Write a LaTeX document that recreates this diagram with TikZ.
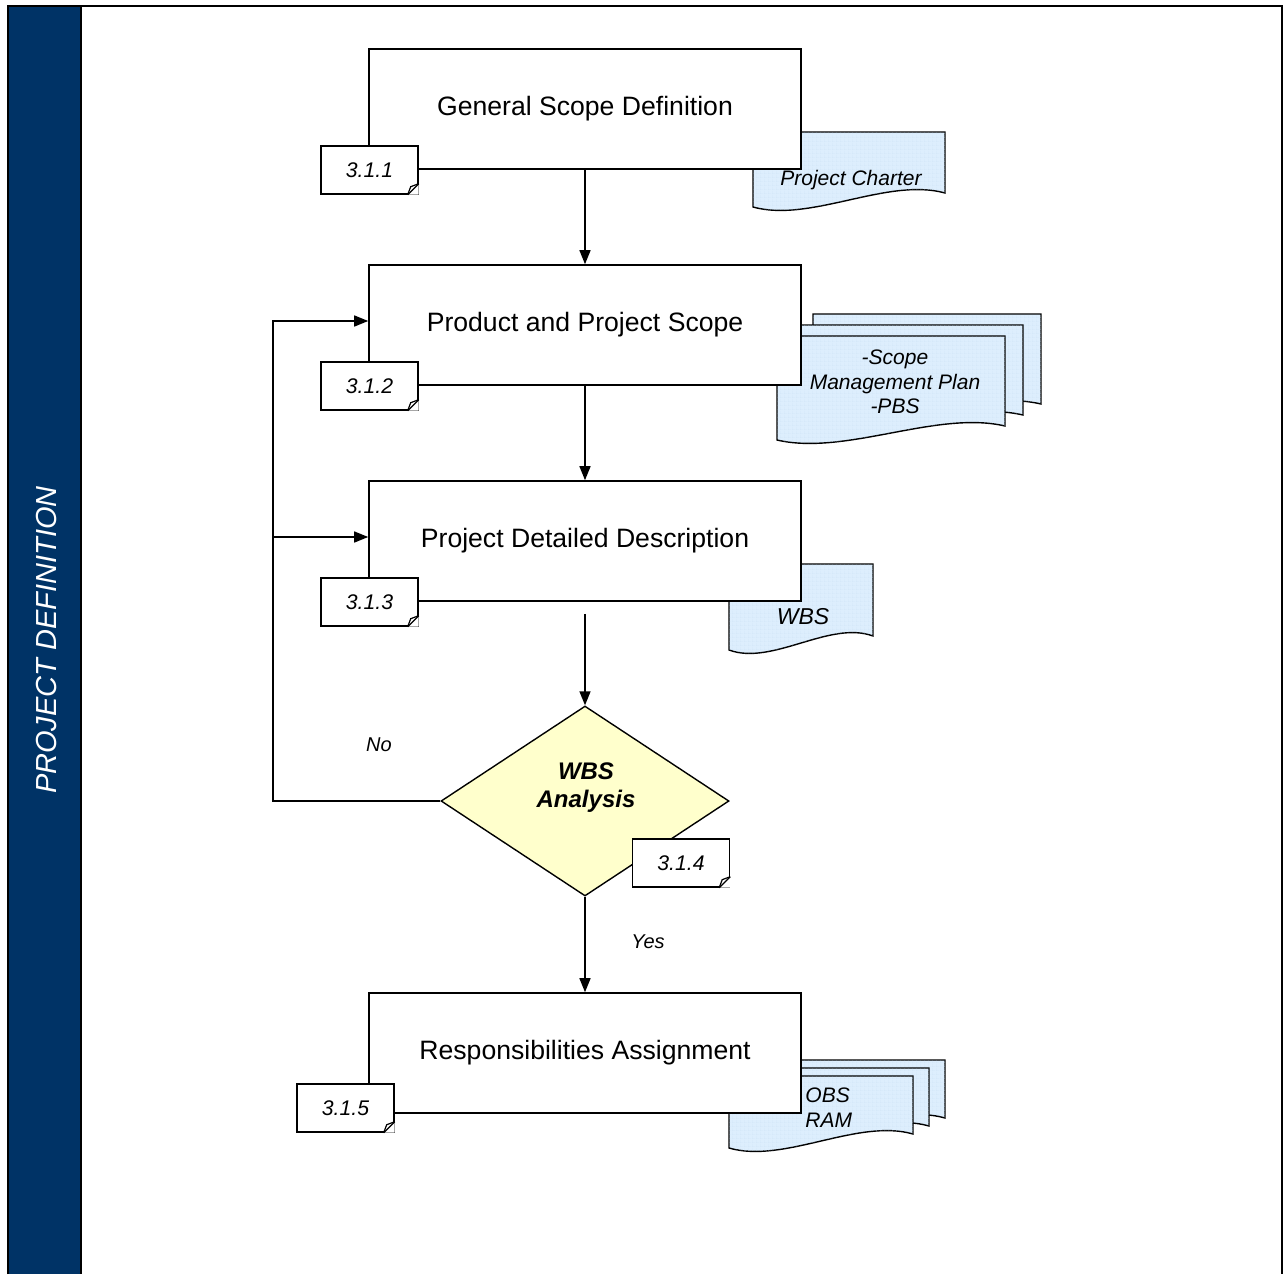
\documentclass[tikz,border=0pt]{standalone}
\usepackage{fontspec}
\setmainfont{Liberation Sans}
\usetikzlibrary{shapes.geometric,arrows.meta,calc,patterns.meta}
\definecolor{barblue}{HTML}{003366}
\definecolor{docfill}{HTML}{DDEEFD}
\definecolor{docgrid}{HTML}{C4DCF2}
\definecolor{decfill}{HTML}{FFFFCC}
\tikzdeclarepattern{
  name=finegrid,
  bounding box={(0,0) and (2pt,2pt)},
  tile size={(2pt,2pt)},
  code={\draw[line width=0.25pt] (0,0) -- (2pt,0) (0,0) -- (0,2pt);}
}
\newcommand\docshape[4]{% x1 y1 x2 yb
  \draw[docstyle] (#1,#2) -- (#3,#2) -- (#3,#4-14)
    .. controls (#3-0.3*#3+0.3*#1,#4-30) and (#1+0.3*#3-0.3*#1,#4+16) .. (#1,#4) -- cycle;}
\newcommand\tagfold[1]{%
  \fill[white] (#1.south east) -- ++(-11,0) -- ++(11,-11) -- cycle;
  \draw[line width=0.6pt] ([shift={(-11,0)}]#1.south east) -- ++(11,-11);
  \draw[line width=0.6pt] ([shift={(-11,0)}]#1.south east) -- ++(3,-8) -- ++(8,-3);}
\begin{document}
\begin{tikzpicture}[x=0.5pt,y=-0.5pt,
  procbox/.style={draw, line width=0.8pt, fill=white, minimum width=216pt, minimum height=60pt, inner sep=0pt, font=\fontsize{13.3pt}{15pt}\selectfont},
  tagbox/.style={draw, line width=0.7pt, fill=white, minimum width=48.5pt, minimum height=24pt, inner sep=0pt, font=\fontsize{10.6pt}{12pt}\selectfont\itshape},
  docstyle/.style={draw, line width=0.7pt, fill=docfill, postaction={pattern=finegrid, pattern color=docgrid}},
  doctext/.style={font=\fontsize{10.5pt}{12.5pt}\selectfont\itshape, align=center, inner sep=0pt},
  lbl/.style={font=\fontsize{10pt}{12pt}\selectfont\itshape, inner sep=0pt},
  arr/.style={line width=0.7pt, -{Triangle[length=7pt,width=5.5pt]}},
  ln/.style={line width=0.7pt}
]
\useasboundingbox (0,0) rectangle (1283,1274);
% frame and side bar
\fill[barblue] (8,6) rectangle (81,1274);
\draw[line width=1.2pt] (8,1274) -- (8,6) -- (1282,6) -- (1282,1274);
\draw[line width=1pt] (81,6) -- (81,1274);
\node[rotate=90, text=white, font=\fontsize{14.5pt}{17pt}\selectfont\itshape] (title) at (47,640) {PROJECT DEFINITION};
% documents
\docshape{753}{132}{945}{207}
\node[doctext] (d1) at (851,180) {Project Charter};
\docshape{813}{314}{1041}{418}
\docshape{795}{325}{1023}{429}
\docshape{777}{336}{1005}{440}
\node[doctext, font=\fontsize{10.5pt}{12.3pt}\selectfont\itshape] (d2) at (895,382) {-Scope\\Management Plan\\-PBS};
\docshape{729}{564}{873}{650}
\node[doctext, font=\fontsize{11.5pt}{13pt}\selectfont\itshape] (d3) at (803,617) {WBS};
\docshape{761}{1060}{945}{1132}
\docshape{745}{1068}{929}{1140}
\docshape{729}{1076}{913}{1148}
\node[doctext, align=left, anchor=west, font=\fontsize{10.5pt}{12.5pt}\selectfont\itshape] (d5) at (805,1108) {OBS\\RAM};
% process boxes
\node[procbox] (b1) at (585,109) {General Scope Definition};
\node[procbox] (b2) at (585,325) {Product and Project Scope};
\node[procbox] (b3) at (585,541) {Project Detailed Description};
\node[procbox] (b5) at (585,1053) {Responsibilities Assignment};
% decision
\node[diamond, draw, line width=0.7pt, fill=decfill, minimum width=144pt, minimum height=95pt, inner sep=0pt] (dec) at (585,801) {};
\node[font=\fontsize{12pt}{14pt}\selectfont\bfseries\itshape, align=center, inner sep=0pt] (dect) at (586,788) {WBS\\Analysis};
% tags
\node[tagbox] (t1) at (369.5,170) {3.1.1}; \tagfold{t1}
\node[tagbox] (t2) at (369.5,386) {3.1.2}; \tagfold{t2}
\node[tagbox] (t3) at (369.5,602) {3.1.3}; \tagfold{t3}
\node[tagbox] (t4) at (681,863) {3.1.4}; \tagfold{t4}
\node[tagbox] (t5) at (345.5,1108) {3.1.5}; \tagfold{t5}
% connectors
\draw[arr] (b1.south) -- (b2.north);
\draw[arr] (b2.south) -- (b3.north);
\draw[arr] ([yshift=-6]b3.south) -- (dec.north);
\draw[arr] (dec.south) -- (b5.north);
\coordinate (c1) at (273,801);
\coordinate (c2) at (273,537);
\draw[arr] (dec.west) -- (c1) |- ($(b2.west)+(0,-4)$);
\draw[arr] (c2) -- ($(b3.west)+(0,-4)$);
\node[lbl] (no) at (379,745) {No};
\node[lbl] (yes) at (648,942) {Yes};
\end{tikzpicture}
\end{document}
